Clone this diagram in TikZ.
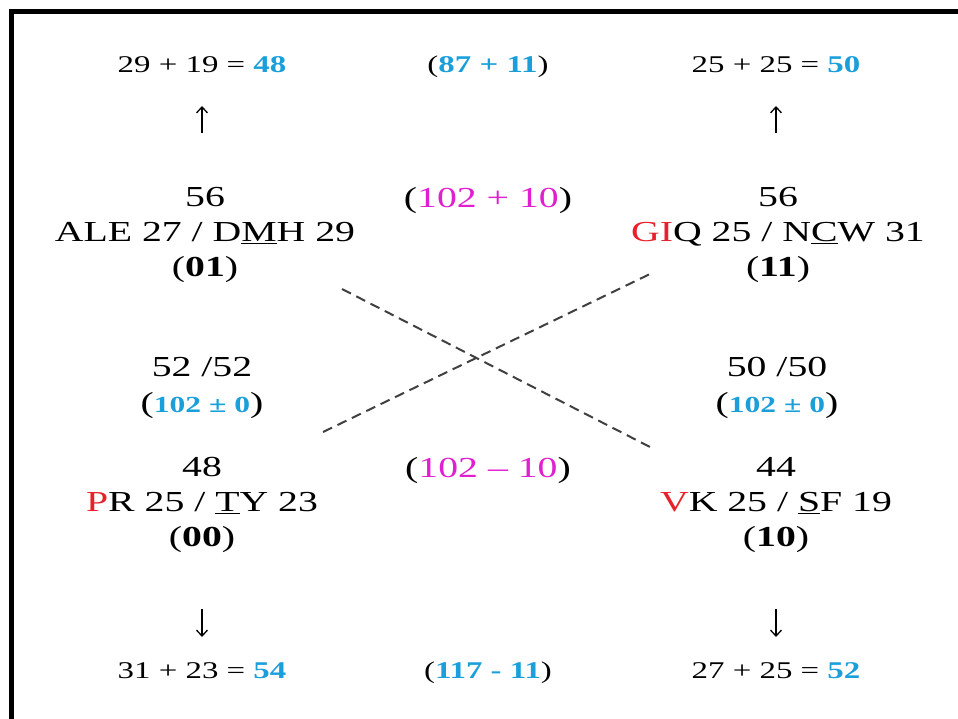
\documentclass[tikz,border=0pt]{standalone}
\usepackage{fontspec}
\setmainfont{Liberation Serif}
\usetikzlibrary{arrows.meta}

\definecolor{numblue}{HTML}{1A9FDB}
\definecolor{nummag}{HTML}{E020D0}
\definecolor{initred}{HTML}{E8202A}
\newcommand{\blnum}[1]{\textcolor{numblue}{\textbf{#1}}}
\newcommand{\magnum}[1]{\textcolor{nummag}{#1}}
\newcommand{\redlet}[1]{\textcolor{initred}{#1}}

\tikzset{
  wide/.style={xscale=1.37, transform shape, inner sep=0pt, align=center},
  big/.style={wide, font=\fontsize{29}{35}\selectfont},
  small/.style={wide, font=\fontsize{24}{29}\selectfont},
  cross/.style={line width=2pt, black!75, dash pattern=on 10pt off 6pt},
  updown/.style={line width=1.3pt, -{Straight Barb[length=6pt,width=11pt]}},
}

\begin{document}
\begin{tikzpicture}[x=1pt,y=-1pt]
\useasboundingbox (0,0) rectangle (958,719);
\draw[line width=5pt] (11,730) |- (970,12);
% top row
\node[small] (e01) at (202,65) {29 + 19 = \blnum{48}};
\node[small] (mtop) at (488,67) {(\blnum{87 + 11})};
\node[small] (e11) at (776,65) {25 + 25 = \blnum{50}};
\coordinate (u01a) at (202,133);
\coordinate (u01b) at (202,106);
\coordinate (u11a) at (776,133);
\coordinate (u11b) at (776,106);
\draw[updown] (u01a) -- (u01b);
\draw[updown] (u11a) -- (u11b);
% upper pair
\node[big] (n01) at (205,235) {56\\ALE 27 / D\underline{M}H 29\\(\textbf{01})};
\node[big] (mplus) at (488,201) {(\magnum{102 + 10})};
\node[big] (n11) at (778,235) {56\\\redlet{GI}Q 25 / N\underline{C}W 31\\(\textbf{11})};
% ties
\node[big] (t0l) at (202,388) {52 /52\\[1pt]({\fontsize{23}{27}\selectfont\blnum{102 ± 0}})};
\node[big] (t0r) at (777,388) {50 /50\\[1pt]({\fontsize{23}{27}\selectfont\blnum{102 ± 0}})};
% crossing
\coordinate (c1a) at (342,289);
\coordinate (c1b) at (650,447);
\coordinate (c2a) at (323,432);
\coordinate (c2b) at (650,274);
\draw[cross] (c1a) -- (c1b);
\draw[cross] (c2a) -- (c2b);
% lower pair
\node[big] (n00) at (202,505) {48\\\redlet{P}R 25 / \underline{T}Y 23\\(\textbf{00})};
\node[big] (mminus) at (488,471) {(\magnum{102 -- 10})};
\node[big] (n10) at (776,505) {44\\\redlet{V}K 25 / \underline{S}F 19\\(\textbf{10})};
\coordinate (d00a) at (202,609);
\coordinate (d00b) at (202,637);
\coordinate (d10a) at (776,609);
\coordinate (d10b) at (776,637);
\draw[updown] (d00a) -- (d00b);
\draw[updown] (d10a) -- (d10b);
% bottom row
\node[small] (e00) at (202,671) {31 + 23 = \blnum{54}};
\node[small] (mbot) at (488,673) {(\blnum{117 - 11})};
\node[small] (e10) at (776,671) {27 + 25 = \blnum{52}};
\end{tikzpicture}
\end{document}
